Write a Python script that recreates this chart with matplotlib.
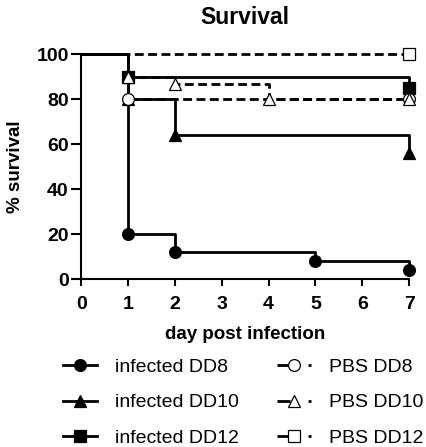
import matplotlib.pyplot as plt
from matplotlib.lines import Line2D

plt.rcParams['font.family'] = ['Liberation Sans', 'DejaVu Sans']

# survival curves: event days and % survival after each event
inf_dd8_days = [0, 1, 2, 5, 7]
inf_dd8_surv = [100, 20, 12, 8, 4]
inf_dd10_days = [0, 1, 2, 7]
inf_dd10_surv = [100, 80, 64, 56]
inf_dd12_days = [0, 1, 7]
inf_dd12_surv = [100, 90, 85]
pbs_dd8_days = [0, 1, 7]
pbs_dd8_surv = [100, 80, 80]
pbs_dd10_days = [0, 1, 2, 4, 7]
pbs_dd10_surv = [100, 90, 87, 80, 80]
pbs_dd12_days = [0, 7]
pbs_dd12_surv = [100, 100]

labels = ['infected DD8', 'infected DD10', 'infected DD12',
          'PBS DD8', 'PBS DD10', 'PBS DD12']
xticks = [0, 1, 2, 3, 4, 5, 6, 7]
yticks = [0, 20, 40, 60, 80, 100]

dashed = (0, (3.2, 1.6))
series = [
    (inf_dd8_days, inf_dd8_surv, 'o', 'black', '-'),
    (inf_dd10_days, inf_dd10_surv, '^', 'black', '-'),
    (inf_dd12_days, inf_dd12_surv, 's', 'black', '-'),
    (pbs_dd8_days, pbs_dd8_surv, 'o', 'white', dashed),
    (pbs_dd10_days, pbs_dd10_surv, '^', 'white', dashed),
    (pbs_dd12_days, pbs_dd12_surv, 's', 'white', dashed),
]

fig = plt.figure(figsize=(4.27, 4.47), dpi=100)
ax = fig.add_axes([0.19, 0.375, 0.768, 0.5035])

lw = 2.0
ms = 8.5
handles = []
for (d, s, m, fc, ls), lab in zip(series, labels):
    ax.step(d, s, where='post', color='black', lw=lw, linestyle=ls,
            clip_on=False, zorder=2)
    ax.plot(d[1:], s[1:], linestyle='none', marker=m, markersize=ms,
            markerfacecolor=fc, markeredgecolor='black', markeredgewidth=0.9,
            clip_on=False, zorder=3)
    hls = '-' if ls == '-' else (0, (4.7, 6.5))
    handles.append(Line2D([], [], color='black', lw=lw, linestyle=hls,
                          marker=m, markersize=ms, markerfacecolor=fc,
                          markeredgecolor='black', markeredgewidth=0.9))

ax.set_xlim(0, 7)
ax.set_ylim(0, 100)
ax.set_xticks(xticks)
ax.set_yticks(yticks)
for sp in ['top', 'right']:
    ax.spines[sp].set_visible(False)
for sp in ['left', 'bottom']:
    ax.spines[sp].set_linewidth(1.5)
ax.tick_params(axis='y', length=7, width=1.5, pad=2, labelsize=14)
ax.tick_params(axis='x', length=5, width=1.5, pad=7, labelsize=14)
for t in ax.get_xticklabels() + ax.get_yticklabels():
    t.set_fontweight('bold')

ax.set_title('Survival', fontsize=16.5, fontweight='bold', pad=22)
ax.set_xlabel('day post infection', fontsize=13.5, fontweight='bold', labelpad=9)
ax.set_ylabel('% survival', fontsize=13.5, fontweight='bold', labelpad=9)

fig.legend(handles, labels, ncol=2, loc='upper left',
           bbox_to_anchor=(63 / 427, 1 - 358 / 447), frameon=False,
           fontsize=14, handlelength=1.75, handletextpad=0.9,
           columnspacing=2.0, labelspacing=0.93, borderpad=0,
           borderaxespad=0)

fig.savefig('out.png', dpi=100)
